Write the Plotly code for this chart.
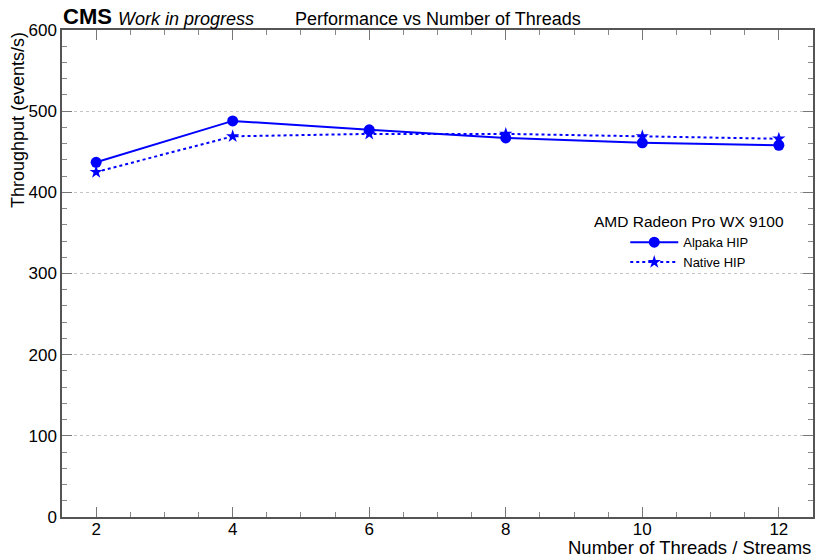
import plotly.graph_objects as go

threads = [2, 4, 6, 8, 10, 12]
alpaka_hip = [437, 488, 477, 467, 461, 458]
native_hip = [425, 469, 472, 472, 469, 466]

FONT = "Liberation Sans, Arial, sans-serif"

fig = go.Figure()
fig.add_trace(go.Scatter(
    x=threads, y=alpaka_hip, name="Alpaka HIP", mode="lines+markers",
    line=dict(color="#0000ff", width=2),
    marker=dict(symbol="circle", size=11, color="#0000ff"),
))
fig.add_trace(go.Scatter(
    x=threads, y=native_hip, name="Native HIP", mode="lines+markers",
    line=dict(color="#0000ff", width=2, dash="dot"),
    marker=dict(symbol="star", size=10, color="#0000ff"),
))

axis_common = dict(
    showline=True, linecolor="#555555", linewidth=1.5, mirror="allticks",
    ticks="inside", ticklen=10, tickcolor="#777777", tickwidth=1,
    tickfont=dict(family=FONT, size=17, color="black"),
    zeroline=False,
)

fig.update_xaxes(
    range=[1.5, 12.5], tickvals=threads, showgrid=False, ticklabelstandoff=-4,
    minor=dict(dtick=0.5, tick0=0, ticks="inside", ticklen=5, tickcolor="#888888", showgrid=False),
    **axis_common,
)
fig.update_yaxes(
    range=[0, 600], dtick=100, showgrid=True,
    gridcolor="#c4c4c4", griddash="dot", gridwidth=1,
    minor=dict(dtick=20, ticks="inside", ticklen=5, tickcolor="#888888", showgrid=False),
    **axis_common,
)

fig.update_layout(
    width=818, height=552,
    margin=dict(l=54, r=13, t=22, b=43),
    plot_bgcolor="white", paper_bgcolor="white",
    font=dict(family=FONT, color="black"),
    showlegend=True,
    legend=dict(
        x=0.75, y=0.595, xanchor="left", yanchor="top",
        bgcolor="rgba(0,0,0,0)",
        font=dict(family=FONT, size=13),
        tracegroupgap=0, itemwidth=48,
    ),
    annotations=[
        dict(text="<b>CMS</b>", x=0, y=1.0, xref="paper", yref="paper",
             xanchor="left", yanchor="bottom", showarrow=False,
             font=dict(family=FONT, size=22), xshift=-1, yshift=-1),
        dict(text="<i>Work in progress</i>", x=0, y=1.0, xref="paper", yref="paper",
             xanchor="left", yanchor="bottom", showarrow=False,
             font=dict(family=FONT, size=18), xshift=54, yshift=-1),
        dict(text="Performance vs Number of Threads", x=0.501, y=1.0, xref="paper", yref="paper",
             xanchor="center", yanchor="bottom", showarrow=False,
             font=dict(family=FONT, size=18), yshift=-1),
        dict(text="Number of Threads / Streams", x=1.0, y=0, xref="paper", yref="paper",
             xanchor="right", yanchor="top", showarrow=False,
             font=dict(family=FONT, size=18.5), yshift=-18),
        dict(text="Throughput (events/s)", x=0, y=1.0, xref="paper", yref="paper",
             xanchor="center", yanchor="top", showarrow=False, textangle=-90,
             font=dict(family=FONT, size=18), xshift=-44),
        dict(text="AMD Radeon Pro WX 9100", x=(689 - 62) / 751, y=(517 - 222) / 487,
             xref="paper", yref="paper", xanchor="center", yanchor="middle",
             showarrow=False, font=dict(family=FONT, size=15.5)),
    ],
)

fig.write_html("out.html")
